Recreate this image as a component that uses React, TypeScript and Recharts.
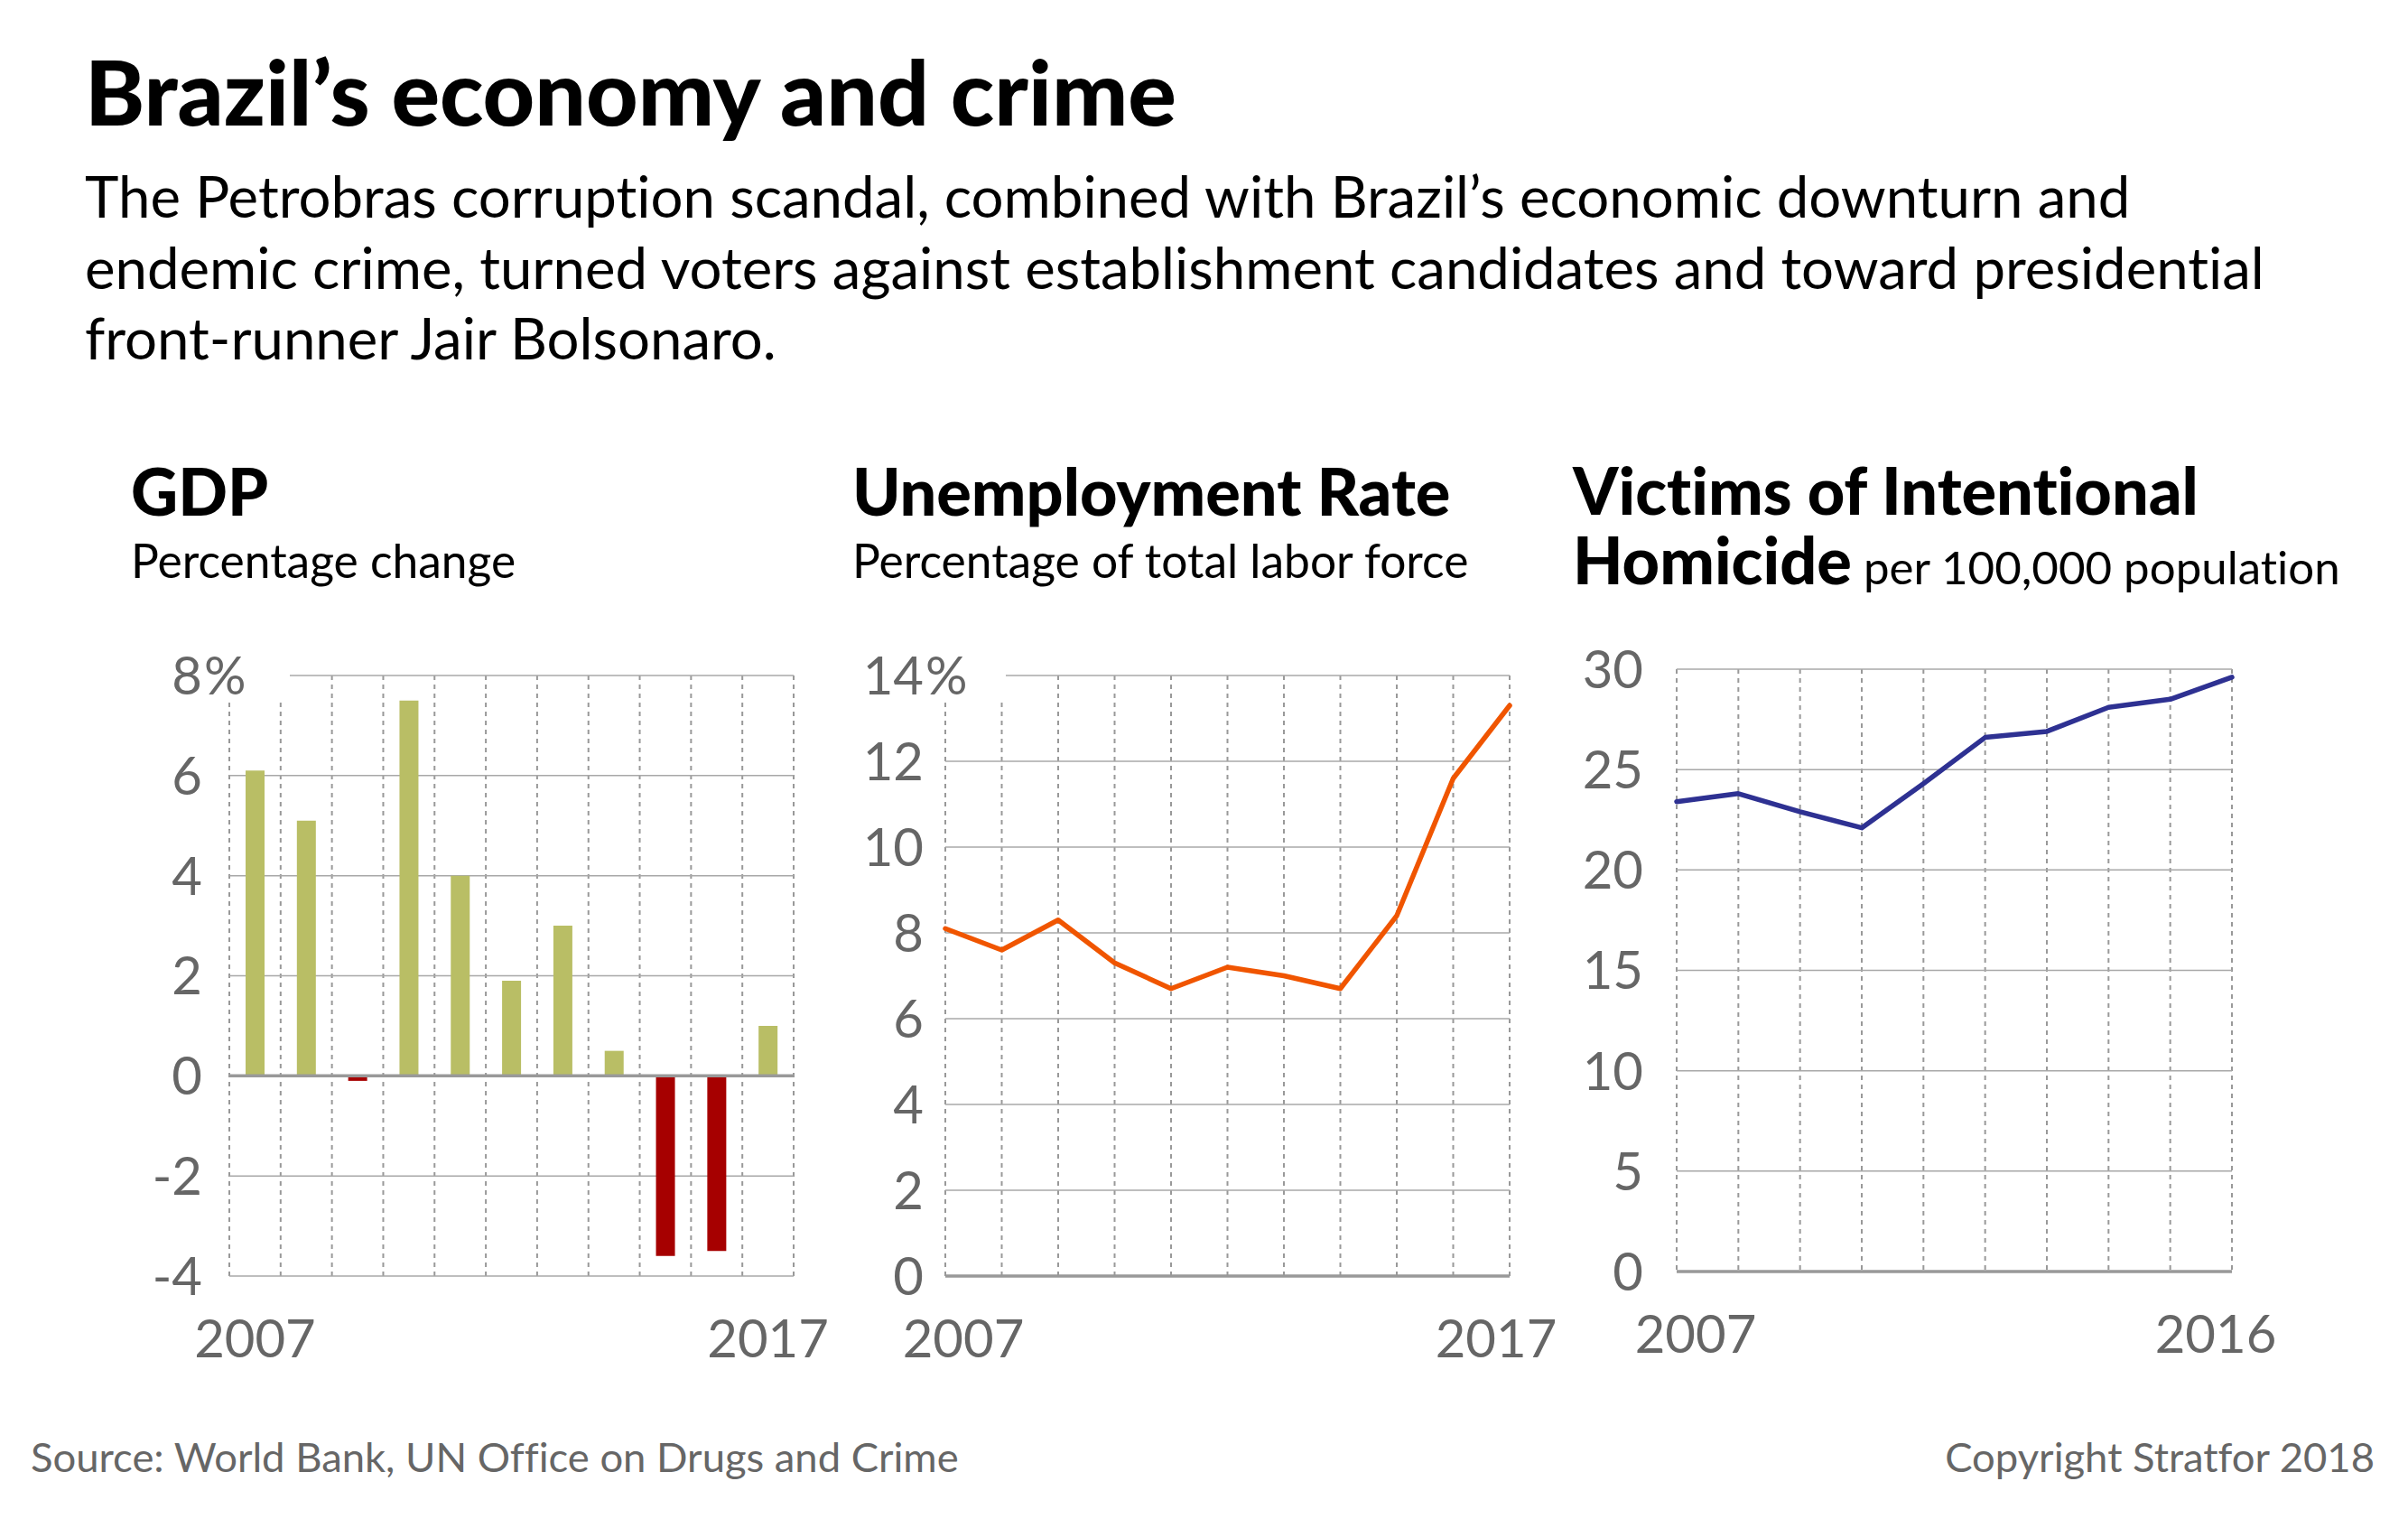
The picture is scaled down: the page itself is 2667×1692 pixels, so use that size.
import {
  Bar,
  BarChart,
  CartesianGrid,
  Cell,
  Line,
  LineChart,
  ReferenceLine,
  XAxis,
  YAxis,
} from "recharts";

const FONT = "Lato, 'Open Sans', sans-serif";
const TICK_COLOR = "#666666";
const GRID_COLOR = "#a8a8a8";
const DASH_COLOR = "#999999";

// GDP, annual % change
const gdpYears = [2007, 2008, 2009, 2010, 2011, 2012, 2013, 2014, 2015, 2016, 2017];
const gdpGrowth = [6.1, 5.1, -0.1, 7.5, 4.0, 1.9, 3.0, 0.5, -3.6, -3.5, 1.0];
const gdpTicks = [-4, -2, 0, 2, 4, 6, 8];
const gdpYearLabels = [2007, 2017];

// Unemployment, % of total labor force
const jobYears = [2007, 2008, 2009, 2010, 2011, 2012, 2013, 2014, 2015, 2016, 2017];
const jobRate = [8.1, 7.6, 8.3, 7.3, 6.7, 7.2, 7.0, 6.7, 8.4, 11.6, 13.3];
const jobTicks = [0, 2, 4, 6, 8, 10, 12, 14];
const jobYearLabels = [2007, 2017];

// Intentional homicide victims per 100,000
const crimeYears = [2007, 2008, 2009, 2010, 2011, 2012, 2013, 2014, 2015, 2016];
const crimeRate = [23.4, 23.8, 22.9, 22.1, 24.3, 26.6, 26.9, 28.1, 28.5, 29.6];
const crimeTicks = [0, 5, 10, 15, 20, 25, 30];
const crimeYearLabels = [2007, 2016];

const gdpData = gdpYears.map((year, i) => ({ year, value: gdpGrowth[i] }));
const jobData = jobYears.map((year, i) => ({ year, value: jobRate[i] }));
const crimeData = crimeYears.map((year, i) => ({ year, value: crimeRate[i] }));

// band edges between the GDP bars, for the dashed verticals
const gdpEdges = [...gdpYears.map((y) => y - 0.5), gdpYears[gdpYears.length - 1] + 0.5];

function YTick(props: any) {
  const { x, y, payload, top, unit, gap } = props;
  const v = payload.value;
  const tx = x - gap;
  const style = { fontFamily: FONT, fontSize: 58, fill: TICK_COLOR };
  if (unit && v === top) {
    return (
      <g>
        <rect x={x - 3} y={y - 44} width={70} height={72} fill="#fff" />
        <text x={tx} y={y} dy="0.36em" textAnchor="end" {...style}>
          {v}
        </text>
        <text x={tx + 2} y={y} dy="0.36em" textAnchor="start" {...style}>
          {unit}
        </text>
      </g>
    );
  }
  return (
    <text x={tx} y={y} dy="0.36em" textAnchor="end" {...style}>
      {v}
    </text>
  );
}

function XTick(props: any) {
  const { x, y, payload, first, last, nudgeL, nudgeR } = props;
  const v = payload.value;
  const dx = v === first ? nudgeL : v === last ? -nudgeR : 0;
  return (
    <text
      x={x + dx}
      y={y + 90}
      textAnchor="middle"
      fontFamily={FONT}
      fontSize={58}
      fill={TICK_COLOR}
    >
      {v}
    </text>
  );
}

function GdpChart() {
  return (
    <BarChart
      width={885}
      height={845}
      data={gdpData}
      margin={{ top: 60, right: 60, bottom: 0, left: 0 }}
    >
      <CartesianGrid
        horizontal={false}
        verticalValues={gdpEdges}
        stroke={DASH_COLOR}
        strokeWidth={2}
        strokeDasharray="5 5"
      />
      <CartesianGrid
        vertical={false}
        horizontalValues={gdpTicks}
        stroke={GRID_COLOR}
        strokeWidth={1.5}
      />
      <XAxis
        dataKey="year"
        type="number"
        domain={[2006.5, 2017.5]}
        ticks={gdpYearLabels}
        axisLine={false}
        tickLine={false}
        tickSize={0}
        tickMargin={0}
        height={120}
        tick={(p: any) => <XTick {...p} first={2007} last={2017} nudgeL={0} nudgeR={0} />}
      />
      <YAxis
        type="number"
        domain={[-4, 8]}
        ticks={gdpTicks}
        width={200}
        axisLine={false}
        tickLine={false}
        tickSize={0}
        tickMargin={0}
        tick={(p: any) => <YTick {...p} top={8} unit="%" gap={30} />}
      />
      <ReferenceLine y={0} stroke="#999" strokeWidth={3.5} />
      <Bar dataKey="value" barSize={21} isAnimationActive={false}>
        {gdpData.map((d) => (
          <Cell key={d.year} fill={d.value < 0 ? "#a60000" : "#b9be65"} />
        ))}
      </Bar>
    </BarChart>
  );
}

function TrendChart(props: any) {
  const { data, years, ticks, domain, labels, color, unit, gap, nudgeL, nudgeR, height } = props;
  return (
    <LineChart
      width={props.width}
      height={height}
      data={data}
      margin={{ top: 60, right: 60, bottom: 0, left: 0 }}
    >
      <CartesianGrid
        horizontal={false}
        verticalValues={years}
        stroke={DASH_COLOR}
        strokeWidth={2}
        strokeDasharray="5 5"
      />
      <CartesianGrid
        vertical={false}
        horizontalValues={ticks}
        stroke={GRID_COLOR}
        strokeWidth={1.5}
      />
      <XAxis
        dataKey="year"
        type="number"
        domain={[years[0], years[years.length - 1]]}
        ticks={labels}
        axisLine={false}
        tickLine={false}
        tickSize={0}
        tickMargin={0}
        height={120}
        tick={(p: any) => (
          <XTick {...p} first={labels[0]} last={labels[1]} nudgeL={nudgeL} nudgeR={nudgeR} />
        )}
      />
      <YAxis
        type="number"
        domain={domain}
        ticks={ticks}
        width={200}
        axisLine={false}
        tickLine={false}
        tickSize={0}
        tickMargin={0}
        tick={(p: any) => <YTick {...p} top={domain[1]} unit={unit} gap={gap} />}
      />
      <ReferenceLine y={0} stroke="#999" strokeWidth={3.5} />
      <Line
        type="linear"
        dataKey="value"
        stroke={color}
        strokeWidth={5.5}
        strokeLinejoin="round"
        strokeLinecap="round"
        dot={false}
        isAnimationActive={false}
      />
    </LineChart>
  );
}

export default function App() {
  return (
    <div
      style={{
        position: "absolute",
        left: 0,
        top: 0,
        width: 2667,
        height: 1692,
        background: "#fff",
        overflow: "hidden",
      }}
    >
      <svg
        width={2667}
        height={1692}
        style={{ position: "absolute", left: 0, top: 0, fontVariantLigatures: "none" }}
      >
        <g fontFamily={FONT} fill="#000">
          <text x={94} y={139} fontSize={100} fontWeight={900}>
            Brazil’s economy and crime
          </text>
          <text x={94} y={241} fontSize={63.5}>
            The Petrobras corruption scandal, combined with Brazil’s economic downturn and
          </text>
          <text x={94} y={320} fontSize={63.5}>
            endemic crime, turned voters against establishment candidates and toward presidential
          </text>
          <text x={94} y={398} fontSize={63.5}>
            front-runner Jair Bolsonaro.
          </text>

          <text x={145} y={571} fontSize={72} fontWeight={900}>
            GDP
          </text>
          <text x={145} y={640} fontSize={51.5}>
            Percentage change
          </text>

          <text x={944} y={571} fontSize={72} fontWeight={900}>
            Unemployment Rate
          </text>
          <text x={944} y={640} fontSize={51.5}>
            Percentage of total labor force
          </text>

          {/* two-line heading kept in one text block */}
          <text x={1742} y={570} fontSize={72} fontWeight={900}>
            <tspan x={1742} y={570}>
              Victims of Intentional
            </tspan>
            <tspan x={1742} y={647}>
              Homicide
            </tspan>
            <tspan fontSize={51} fontWeight={400}> per 100,000 population</tspan>
          </text>
        </g>
        <g fontFamily={FONT} fill="#666" fontSize={45.4}>
          <text x={34} y={1630}>
            Source: World Bank, UN Office on Drugs and Crime
          </text>
          <text x={2630} y={1630} textAnchor="end">
            Copyright Stratfor 2018
          </text>
        </g>
      </svg>

      <div style={{ position: "absolute", left: 54, top: 688 }}>
        <GdpChart />
      </div>
      <div style={{ position: "absolute", left: 847, top: 688 }}>
        <TrendChart
          width={885}
          height={845}
          data={jobData}
          years={jobYears}
          ticks={jobTicks}
          domain={[0, 14]}
          labels={jobYearLabels}
          color="#f05500"
          unit="%"
          gap={24}
          nudgeL={20}
          nudgeR={15}
        />
      </div>
      <div style={{ position: "absolute", left: 1657, top: 681 }}>
        <TrendChart
          width={875}
          height={847}
          data={crimeData}
          years={crimeYears}
          ticks={crimeTicks}
          domain={[0, 30]}
          labels={crimeYearLabels}
          color="#2e3192"
          unit=""
          gap={37}
          nudgeL={21}
          nudgeR={18}
        />
      </div>
    </div>
  );
}
